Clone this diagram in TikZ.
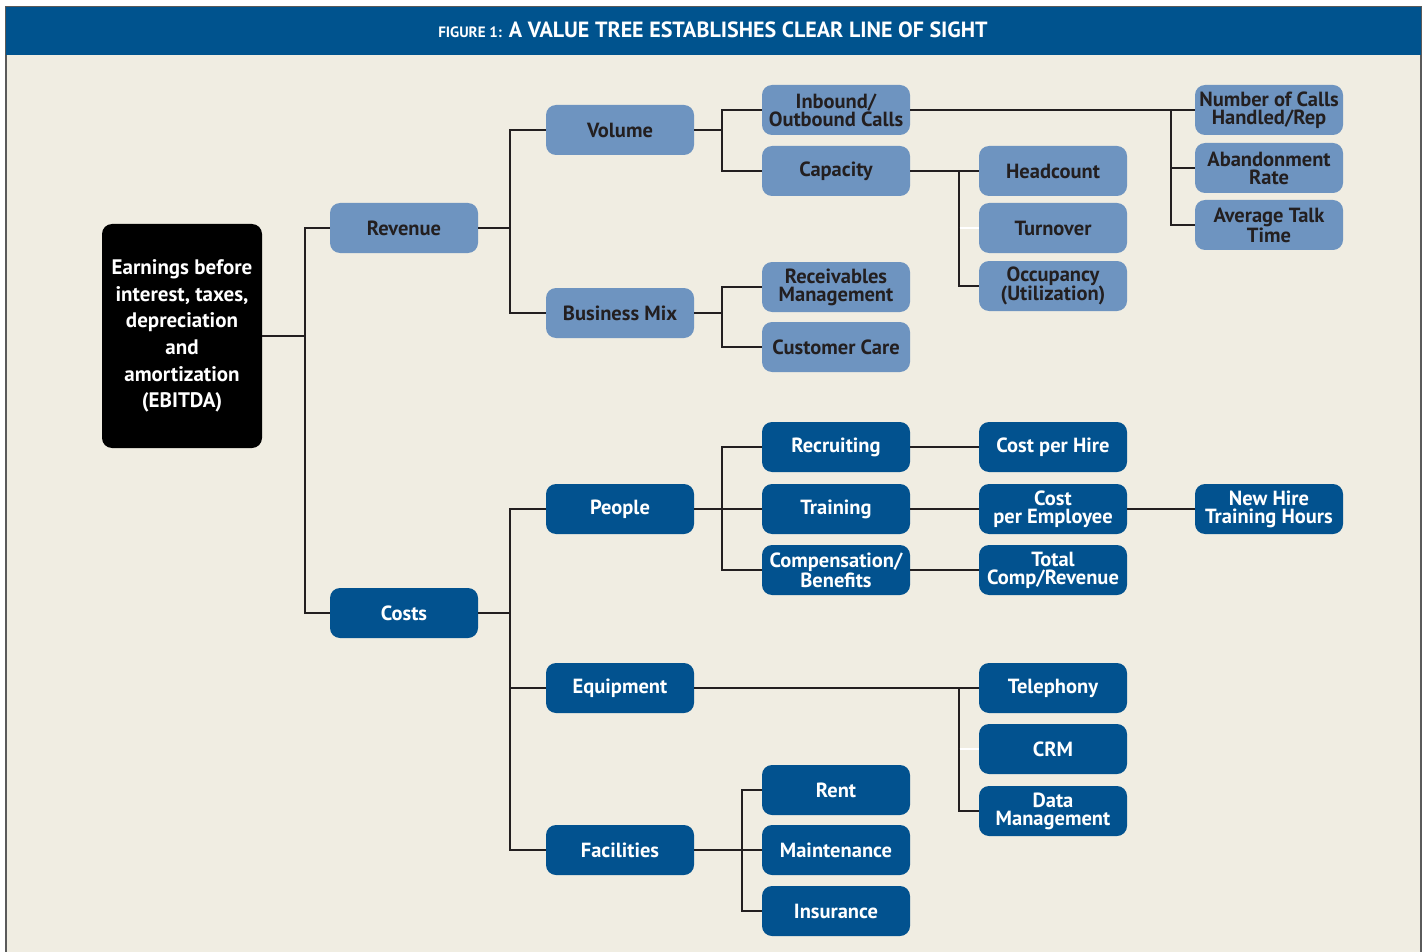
\documentclass[tikz,border=0pt]{standalone}
\usepackage{fontspec}
\setmainfont{PT Sans}
\usetikzlibrary{calc}
\definecolor{lightb}{HTML}{6E94C0}
\definecolor{darkb}{HTML}{02528F}
\definecolor{titleb}{HTML}{00538E}
\definecolor{bgc}{HTML}{F0EDE2}
\definecolor{linec}{HTML}{231F20}
\definecolor{framec}{HTML}{5A5A5A}
\tikzset{
  boxbase/.style={rounded corners=10pt, minimum width=148pt, minimum height=50pt,
    align=center, inner sep=0pt, font=\bfseries\fontsize{20.5}{18}\selectfont},
  lbox/.style={boxbase, fill=lightb, text=linec},
  dbox/.style={boxbase, fill=darkb, text=white},
  conn/.style={draw=linec, line width=1.4pt},
  ghost/.style={draw=white, line width=1.4pt},
}
\begin{document}
\begin{tikzpicture}[x=1pt,y=-1pt]
\useasboundingbox (0,0) rectangle (1427,952);
\fill[white] (0,0) rectangle (1427,952);
\fill[bgc, draw=framec, line width=1.5pt] (6,7) rectangle (1421,970);
\fill[titleb] (6,7) rectangle (1421,55);
\node[text=white, font=\bfseries] (title) at (713,30)
  {{\fontsize{15}{17}\selectfont FIGURE 1:}\hspace{7pt}{\fontsize{22}{24}\selectfont A VALUE TREE ESTABLISHES CLEAR LINE OF SIGHT}};

% nodes
\node[boxbase, fill=black, text=white, minimum width=160pt, minimum height=224pt,
  font=\bfseries\fontsize{21}{26.7}\selectfont] (ebitda) at (182,336)
  {Earnings before\\interest, taxes,\\depreciation\\and\\amortization\\(EBITDA)};

\node[lbox] (revenue) at (404,228) {Revenue};
\node[dbox] (costs) at (404,613) {Costs};

\node[lbox] (volume) at (620,130) {Volume};
\node[lbox] (bizmix) at (620,313) {Business Mix};
\node[lbox] (inbound) at (836,110) {Inbound/\\Outbound Calls};
\node[lbox] (capacity) at (836,171) {Capacity};
\node[lbox] (receiv) at (836,287) {Receivables\\Management};
\node[lbox] (custcare) at (836,347) {Customer Care};
\node[lbox] (headcount) at (1053,171) {Headcount};
\node[lbox] (turnover) at (1053,228) {Turnover};
\node[lbox] (occupancy) at (1053,286) {Occupancy\\(Utilization)};
\node[lbox] (numcalls) at (1269,110) {Number of Calls\\Handled/Rep};
\node[lbox] (abandon) at (1269,168) {Abandonment\\Rate};
\node[lbox] (talk) at (1269,225) {Average Talk\\Time};

\node[dbox] (people) at (620,509) {People};
\node[dbox] (equip) at (620,688) {Equipment};
\node[dbox] (facil) at (620,850) {Facilities};
\node[dbox] (recruit) at (836,447) {Recruiting};
\node[dbox] (training) at (836,509) {Training};
\node[dbox] (comp) at (836,570) {Compensation/\\Benefits};
\node[dbox] (cph) at (1053,447) {Cost per Hire};
\node[dbox] (cpe) at (1053,509) {Cost\\per Employee};
\node[dbox] (tcr) at (1053,570) {Total\\Comp/Revenue};
\node[dbox] (newhire) at (1269,509) {New Hire\\Training Hours};
\node[dbox] (tel) at (1053,688) {Telephony};
\node[dbox] (crm) at (1053,749) {CRM};
\node[dbox] (data) at (1053,811) {Data\\Management};
\node[dbox] (rent) at (836,790) {Rent};
\node[dbox] (maint) at (836,850) {Maintenance};
\node[dbox] (insur) at (836,911) {Insurance};

% bus x positions
\coordinate (b1) at (305,0);
\coordinate (b2) at (510,0);
\coordinate (b3) at (722,0);
\coordinate (b4) at (959,0);
\coordinate (b5) at (1171,0);
\coordinate (b6) at (742,0);

% connectors
\draw[conn] (ebitda.east) -- (ebitda.east -| b1);
\draw[conn] (revenue.west) -- (revenue.west -| b1) |- (costs.west);

\draw[conn] (revenue.east) -- (revenue.east -| b2);
\draw[conn] (volume.west) -- (volume.west -| b2) |- (bizmix.west);

\draw[conn] (volume.east) -- (volume.east -| b3);
\draw[conn] (inbound.west) -- (inbound.west -| b3) |- (capacity.west);

\draw[conn] (bizmix.east) -- (bizmix.east -| b3);
\draw[conn] (receiv.west) -- (receiv.west -| b3) |- (custcare.west);

\draw[conn] (capacity.east) -- (headcount.west);
\draw[conn] (capacity.east -| b4) |- (occupancy.west);
\draw[ghost] (turnover.west -| b4) ++(0.7,0) -- (turnover.west);

\draw[conn] (inbound.east) -- (numcalls.west);
\draw[conn] (inbound.east -| b5) |- (talk.west);
\draw[conn] (abandon.west -| b5) -- (abandon.west);

\draw[conn] (costs.east) -- (costs.east -| b2);
\draw[conn] (people.west) -- (people.west -| b2) |- (facil.west);
\draw[conn] (equip.west -| b2) -- (equip.west);

\draw[conn] (people.east) -- (training.west);
\draw[conn] (recruit.west) -- (recruit.west -| b3) |- (comp.west);

\draw[conn] (recruit.east) -- (cph.west);
\draw[conn] (training.east) -- (cpe.west);
\draw[conn] (cpe.east) -- (newhire.west);
\draw[conn] (comp.east) -- (tcr.west);

\draw[conn] (equip.east) -- (tel.west);
\draw[conn] (equip.east -| b4) |- (data.west);
\draw[ghost] (crm.west -| b4) ++(0.7,0) -- (crm.west);

\draw[conn] (facil.east) -- (maint.west);
\draw[conn] (rent.west) -- (rent.west -| b6) |- (insur.west);
\end{tikzpicture}
\end{document}
